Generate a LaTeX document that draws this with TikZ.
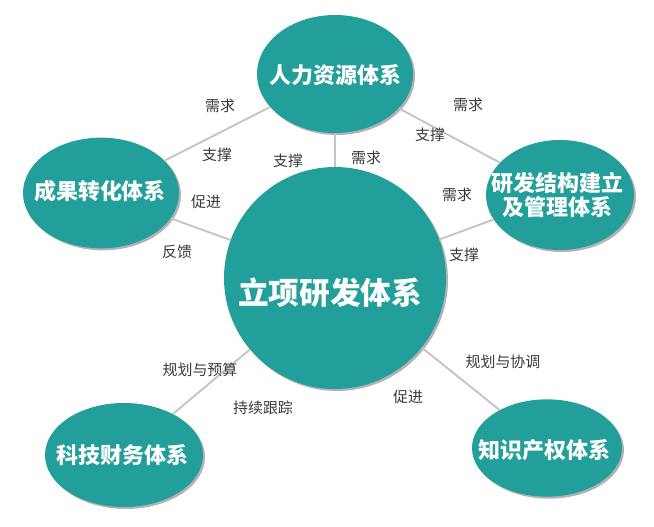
\documentclass[tikz,border=0pt]{standalone}
\usepackage{fontspec}
\newfontfamily\cjk{Noto Sans CJK SC}
\usepackage{tikz}
\usetikzlibrary{shapes.geometric,shadows}
\definecolor{tealfill}{HTML}{229F9B}
\definecolor{linegray}{HTML}{C4C4C4}
\definecolor{labelgray}{HTML}{3A3A3A}
\tikzset{
  sysnode/.style={ellipse,fill=tealfill,inner sep=0pt,
    drop shadow={shadow xshift=1.5pt,shadow yshift=-1.5pt,fill=black!60,opacity=.5}},
  systext/.style={text=white,align=center,inner sep=0pt,
    font=\cjk\bfseries\fontsize{16.5}{19}\selectfont},
  link/.style={draw=linegray,line width=1.4pt},
  rel/.style={text=labelgray,font=\cjk\fontsize{11.2}{13}\selectfont,inner sep=1pt}
}

\begin{document}
\begin{tikzpicture}[x=.75pt,y=-.75pt]
\useasboundingbox (0,0) rectangle (654,527);
% systems
\node[sysnode,circle,minimum size=166.5pt] (lx) at (335,278) {};
\node[systext,font=\cjk\bfseries\fontsize{23}{27}\selectfont] (lxt) at (330,293) {立项研发体系};
\node[sysnode,minimum width=117pt,minimum height=88.5pt] (hr) at (335,74) {};
\node[systext] (hrt) at (335,75) {人力资源体系};
\node[sysnode,minimum width=117pt,minimum height=83pt] (cg) at (101,193) {};
\node[systext] (cgt) at (100,191) {成果转化体系};
\node[sysnode,minimum width=111pt,minimum height=82.5pt] (jg) at (560,195) {};
\node[systext] (jgt) at (557,195) {研发结构建立\\[-1pt]及管理体系};
\node[sysnode,minimum width=118.5pt,minimum height=78pt] (cw) at (124,455) {};
\node[systext] (cwt) at (122,455) {科技财务体系};
\node[sysnode,minimum width=112.5pt,minimum height=73pt] (zs) at (547,448) {};
\node[systext] (zst) at (544,450) {知识产权体系};
% links
\draw[link] (hr)--(cg);\draw[link] (hr)--(lx);\draw[link] (hr)--(jg);
\draw[link] (cg)--(lx);\draw[link] (jg)--(lx);
\draw[link] (lx)--(cw);\draw[link] (lx)--(zs);
% labels
\node[rel] (r1) at (220,106) {需求};\node[rel] (r2) at (217,155) {支撑};
\node[rel] (r3) at (288,161) {支撑};\node[rel] (r4) at (366,158) {需求};
\node[rel] (r5) at (468,105) {需求};\node[rel] (r6) at (430,135) {支撑};
\node[rel] (r7) at (457,195) {需求};\node[rel] (r8) at (464,255) {支撑};
\node[rel] (r9) at (206,202) {促进};\node[rel] (r10) at (177,252) {反馈};
\node[rel] (r11) at (200,370) {规划与预算};\node[rel] (r12) at (263,408) {持续跟踪};
\node[rel] (r13) at (503,362) {规划与协调};\node[rel] (r14) at (408,397) {促进};
\end{tikzpicture}
\end{document}
